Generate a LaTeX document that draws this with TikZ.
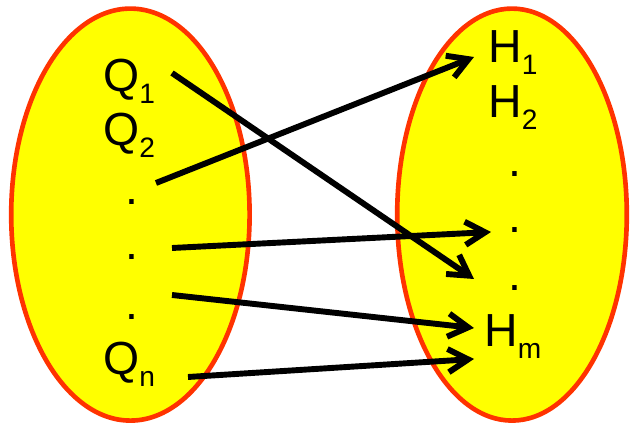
\documentclass[tikz,border=0pt]{standalone}
\usepackage{fontspec}
\setmainfont{Liberation Sans}
\usetikzlibrary{arrows.meta}

\definecolor{setfill}{RGB}{255,255,0}
\definecolor{setrim}{RGB}{255,51,0}

% lowered, smaller index after a letter
\newcommand{\idx}[1]{\raisebox{-8.5pt}{\fontsize{20pt}{20pt}\selectfont #1}}

\begin{document}
\begin{tikzpicture}[
  elem/.style={anchor=base west, inner sep=0pt, font=\fontsize{33pt}{36pt}\selectfont},
  vdot/.style={anchor=base, inner sep=0pt, font=\fontsize{33pt}{36pt}\selectfont},
  setshape/.style={fill=setfill, draw=setrim, line width=3.3pt},
  mapto/.style={-{Straight Barb[length=5mm,width=5.8mm]}, line width=4.2pt}
]
\useasboundingbox (0,0) rectangle (15.75,10.625);

% the two sets
\draw[setshape] (3.26,5.26) ellipse [x radius=2.98, y radius=5.15];
\draw[setshape] (12.8,5.26) ellipse [x radius=2.87, y radius=5.15];

% left set
\node[elem] (Q1) at (2.575,8.325) {Q\idx{1}};
\node[elem] (Q2) at (2.575,6.975) {Q\idx{2}};
\node[vdot] (ld1) at (3.3,5.5)   {.};
\node[vdot] (ld2) at (3.3,4.125) {.};
\node[vdot] (ld3) at (3.3,2.625) {.};
\node[elem] (Qn) at (2.575,1.25)  {Q\idx{n}};

% right set
\node[elem] (H1) at (12.2,9.05)  {H\idx{1}};
\node[elem] (H2) at (12.2,7.675) {H\idx{2}};
\node[vdot] (rd1) at (12.875,6.2)  {.};
\node[vdot] (rd2) at (12.875,4.8)  {.};
\node[vdot] (rd3) at (12.875,3.35) {.};
\node[elem] (Hm) at (12.1,1.95)  {H\idx{m}};

% arrow ends
\coordinate (a1) at (4.3,8.8);   \coordinate (b1) at (11.85,3.65);
\coordinate (a2) at (3.9,6.05);  \coordinate (b2) at (11.85,9.2);
\coordinate (a3) at (4.3,4.425); \coordinate (b3) at (12.275,4.825);
\coordinate (a4) at (4.3,3.25);  \coordinate (b4) at (11.85,2.425);
\coordinate (a5) at (4.7,1.2);   \coordinate (b5) at (11.85,1.65);

% mapping
\foreach \i in {1,...,5}
  \draw[mapto] (a\i) -- (b\i);

\end{tikzpicture}
\end{document}
